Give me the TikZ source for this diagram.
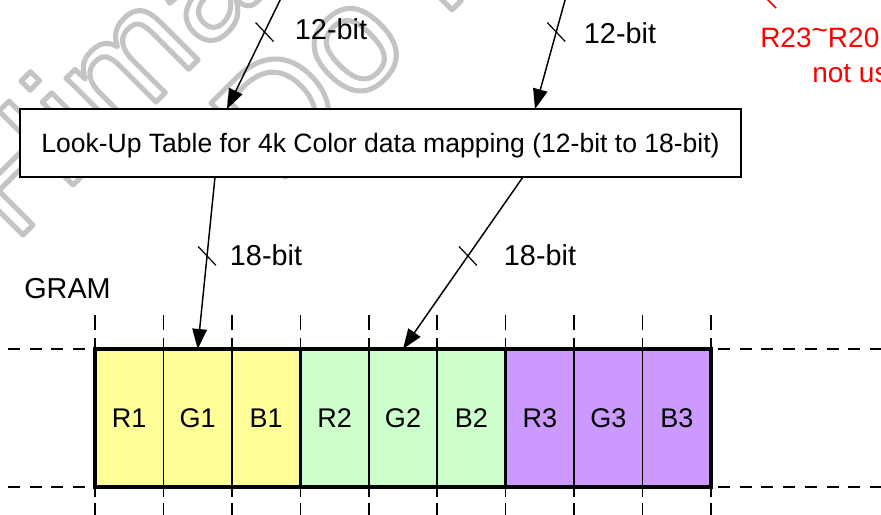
\documentclass[tikz,border=0pt]{standalone}
\usepackage{fontspec}
\setmainfont{Liberation Sans}
\usetikzlibrary{arrows.meta,calc}
\definecolor{cellY}{HTML}{FFFF99}
\definecolor{cellG}{HTML}{CCFFCC}
\definecolor{cellP}{HTML}{CC99FF}
\definecolor{wmgrey}{HTML}{C4C4C4}
\definecolor{notered}{HTML}{FF0000}
\newcommand\outlinetxt[1]{\special{pdf:literal direct 1 Tr 3.8 w 1 j}#1\special{pdf:literal direct 0 Tr 0 j}}
\begin{document}
\begin{tikzpicture}[x=0.75pt,y=-0.75pt,
  lbl/.style={font=\fontsize{21.6pt}{24pt}\selectfont, inner sep=0pt, anchor=base},
  redlbl/.style={font=\fontsize{21pt}{24pt}\selectfont, inner sep=0pt, anchor=base west, text=notered},
  cellbox/.style={draw=black, line width=1.1pt, minimum width=51.33pt, minimum height=103.5pt, inner sep=0pt, outer sep=0pt, font=\fontsize{20.25pt}{22pt}\selectfont},
  grp/.style={draw=black, line width=2.6pt},
  arr/.style={line width=1.1pt, -{Triangle[length=15pt,width=11pt]}},
  tickmark/.style={line width=0.9pt},
  hdash/.style={line width=1.2pt, dash pattern=on 9pt off 7.3pt},
  vdashup/.style={line width=1.2pt, dash pattern=on 8.25pt off 6pt on 11.25pt off 6pt},
  vdashdn/.style={line width=1.2pt, dash pattern=on 7.5pt off 4.5pt on 10.5pt off 6pt},
  wm/.style={rotate=45, anchor=base west, inner sep=0pt, text=wmgrey, font=\fontsize{114pt}{114pt}\selectfont},
]
\useasboundingbox (0,0) rectangle (881,514);
\clip (0,0) rectangle (881,514);
\fill[white] (0,0) rectangle (881,514);

% watermark (outlined grey text)
\node[wm] (wma) at (14,244) {\outlinetxt{Himax}};
\node[wm] (wmb) at (276,186) {\outlinetxt{Do Not Copy}};

% look-up table
\node[draw, fill=white, line width=1pt, minimum width=540.75pt, minimum height=51pt,
      inner sep=0pt, outer sep=0pt, text height=17.9pt, text depth=4.2pt,
      font=\fontsize{19.9pt}{22pt}\selectfont] (lut) at (380.5,143)
      {Look-Up Table for 4k Color data mapping (12-bit to 18-bit)};

% GRAM cells
\foreach \i/\t/\c in {1/R1/cellY,2/G1/cellY,3/B1/cellY,4/R2/cellG,5/G2/cellG,6/B2/cellG,7/R3/cellP,8/G3/cellP,9/B3/cellP}{
  \node[cellbox, fill=\c] (c\i) at ({95+68.444*(\i-0.5)},418) {\t};
}
\draw[grp] (c1.north west) rectangle (c3.south east);
\draw[grp] (c4.north west) rectangle (c6.south east);
\draw[grp] (c7.north west) rectangle (c9.south east);

% dashed continuations
\coordinate (hl1) at (8,349);
\coordinate (hl2) at (8,487);
\coordinate (hr1) at (881,349);
\coordinate (hr2) at (881,487);
\draw[hdash] (hl1) -- (c1.north west);
\draw[hdash] (hl2) -- (c1.south west);
\draw[hdash, dash phase=11.05pt] (c9.north east) -- (hr1);
\draw[hdash, dash phase=11.05pt] (c9.south east) -- (hr2);
\foreach \i in {1,...,9}{
  \draw[vdashup] (c\i.north west) -- ++(0,-37);
  \draw[vdashdn] (c\i.south west) -- ++(0,30);
}
\draw[vdashup] (c9.north east) -- ++(0,-37);
\draw[vdashdn] (c9.south east) -- ++(0,30);

\node[lbl] (gram) at (67.5,298) {GRAM};

% 12-bit inputs
\coordinate (s1) at (285,-10);
\path (lut.north west) ++(207,0) coordinate (e1);
\draw[arr] (s1) -- coordinate[pos=0.353] (t1) (e1);
\draw[tickmark] ($(t1)+(-9,-9.5)$) -- ($(t1)+(9,9.5)$);
\node[lbl] (l1) at (331,39) {12-bit};

\coordinate (s2) at (567.8,-10);
\path (lut.north west) ++(515,0) coordinate (e2);
\draw[arr] (s2) -- coordinate[pos=0.353] (t2) (e2);
\draw[tickmark] ($(t2)+(-9,-9.5)$) -- ($(t2)+(9,9.5)$);
\node[lbl] (l2) at (620,43) {12-bit};

% 18-bit outputs
\path (lut.south west) ++(195,0) coordinate (s3);
\draw[arr] (s3) -- coordinate[pos=0.459] (t3) (c2.north);
\draw[tickmark] ($(t3)+(-9,-9.5)$) -- ($(t3)+(9,9.5)$);
\node[lbl] (l3) at (266,265) {18-bit};

\path (lut.south west) ++(503,0) coordinate (s4);
\draw[arr] (s4) -- coordinate[pos=0.459] (t4) (c5.north);
\draw[tickmark] ($(t4)+(-9,-9.5)$) -- ($(t4)+(9,9.5)$);
\node[lbl] (l4) at (540,265) {18-bit};

% red note
\coordinate (rq1) at (765,-3);
\coordinate (rq2) at (776,8);
\draw[notered, line width=1.3pt] (rq1) -- (rq2);
\node[redlbl] (note1) at (760,47) {R23\raisebox{0.28em}{\textasciitilde}R20};
\node[redlbl] (note2) at (812,82) {not us};
\end{tikzpicture}
\end{document}
